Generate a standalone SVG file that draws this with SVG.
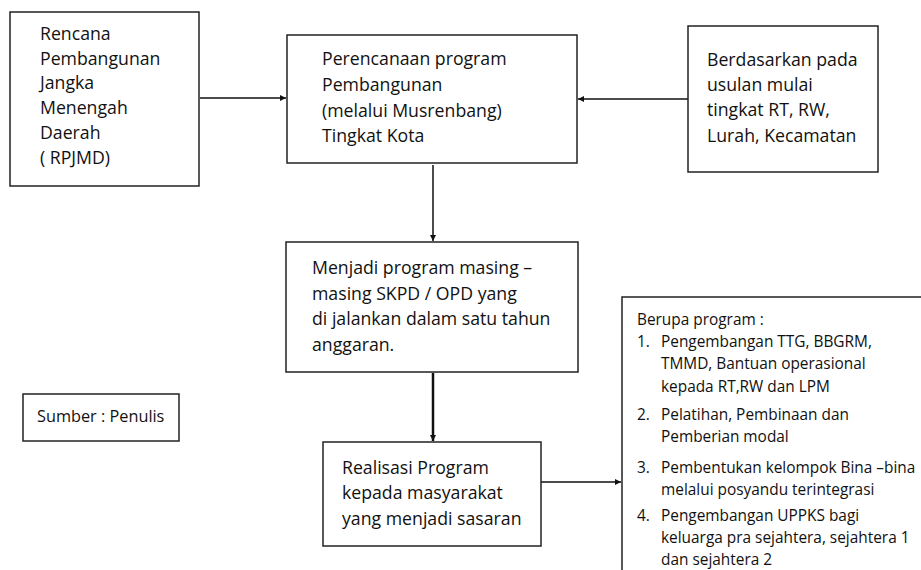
<svg xmlns="http://www.w3.org/2000/svg" width="921" height="570" viewBox="0 0 921 570">
<style>
.box{fill:#fff;stroke:#222;stroke-width:1.5}
.t{font-family:"Open Sans","Liberation Sans",sans-serif;font-size:17.7px;fill:#111}
.s{font-family:"Open Sans","Liberation Sans",sans-serif;font-size:15.4px;fill:#111}
.c{stroke:#111;stroke-width:1.5;fill:none}
</style>
<defs>
<marker id="ah" viewBox="0 0 10 10" refX="10" refY="5" markerWidth="6" markerHeight="6" markerUnits="userSpaceOnUse" orient="auto">
<path d="M0,0 L10,5 L0,10 z" fill="#111"/>
</marker>
</defs>
<rect width="921" height="570" fill="#fff"/>
<g id="connectors">
<line class="c" x1="200" y1="98" x2="286" y2="98" marker-end="url(#ah)"/>
<line class="c" x1="688" y1="99" x2="578" y2="99" marker-end="url(#ah)"/>
<line class="c" x1="433" y1="165" x2="433" y2="241" marker-end="url(#ah)"/>
<line class="c" x1="433" y1="373" x2="433" y2="441" marker-end="url(#ah)" style="stroke-width:2.5"/>
<line class="c" x1="541" y1="482" x2="621" y2="482" marker-end="url(#ah)"/>
</g>
<g id="rpjmd">
<rect class="box" x="10" y="12" width="189" height="174"/>
<text class="t" x="40" y="40">Rencana</text>
<text class="t" x="40" y="65">Pembangunan</text>
<text class="t" x="40" y="89">Jangka</text>
<text class="t" x="40" y="114">Menengah</text>
<text class="t" x="40" y="139">Daerah</text>
<text class="t" x="40" y="164">( RPJMD)</text>
</g>
<g id="perencanaan">
<rect class="box" x="287" y="35" width="290" height="128"/>
<text class="t" x="322" y="65">Perencanaan program</text>
<text class="t" x="322" y="91">Pembangunan</text>
<text class="t" x="322" y="117">(melalui Musrenbang)</text>
<text class="t" x="322" y="142">Tingkat Kota</text>
</g>
<g id="usulan">
<rect class="box" x="688" y="26" width="190" height="146"/>
<text class="t" x="707" y="66">Berdasarkan pada</text>
<text class="t" x="707" y="91">usulan mulai</text>
<text class="t" x="707" y="116">tingkat RT, RW,</text>
<text class="t" x="707" y="142">Lurah, Kecamatan</text>
</g>
<g id="menjadi">
<rect class="box" x="286" y="242" width="292" height="130"/>
<text class="t" x="312" y="274">Menjadi program masing –</text>
<text class="t" x="312" y="300">masing SKPD / OPD yang</text>
<text class="t" x="312" y="325">di jalankan dalam satu tahun</text>
<text class="t" x="312" y="351">anggaran.</text>
</g>
<g id="realisasi">
<rect class="box" x="323" y="442" width="218" height="104"/>
<text class="t" x="342" y="474">Realisasi Program</text>
<text class="t" x="342" y="499">kepada masyarakat</text>
<text class="t" x="342" y="525">yang menjadi sasaran</text>
</g>
<g id="berupa">
<rect class="box" x="622" y="297" width="310" height="290"/>
<text class="s" x="637" y="325">Berupa program :</text>
<text class="s" x="637" y="347">1.</text>
<text class="s" x="661" y="347">Pengembangan TTG, BBGRM,</text>
<text class="s" x="661" y="369">TMMD, Bantuan operasional</text>
<text class="s" x="661" y="392">kepada RT,RW dan LPM</text>
<text class="s" x="637" y="420">2.</text>
<text class="s" x="661" y="420">Pelatihan, Pembinaan dan</text>
<text class="s" x="661" y="442">Pemberian modal</text>
<text class="s" x="637" y="473">3.</text>
<text class="s" x="661" y="473">Pembentukan kelompok Bina –bina</text>
<text class="s" x="661" y="495">melalui posyandu terintegrasi</text>
<text class="s" x="637" y="521">4.</text>
<text class="s" x="661" y="521">Pengembangan UPPKS bagi</text>
<text class="s" x="661" y="543">keluarga pra sejahtera, sejahtera 1</text>
<text class="s" x="661" y="565">dan sejahtera 2</text>
</g>
<g id="sumber">
<rect class="box" x="23" y="394" width="156" height="47"/>
<text class="s" x="37" y="422" style="font-size:16.3px">Sumber : Penulis</text>
</g>
</svg>
